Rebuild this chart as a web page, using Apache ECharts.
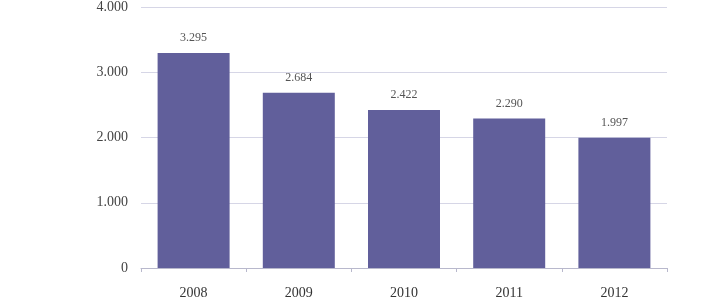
<!DOCTYPE html>
<html><head><meta charset="utf-8">
<script src="https://cdn.jsdelivr.net/npm/echarts@6/dist/echarts.min.js"></script>
<style>html,body{margin:0;padding:0;background:#fff}#c{width:720px;height:301px}</style>
</head><body><div id="c"></div>
<script>
var categories = ['2008', '2009', '2010', '2011', '2012'];
var values = [3295, 2684, 2422, 2290, 1997];
var yTicks = [0, 1000, 2000, 3000, 4000];

function fmt(v) {
  var s = String(Math.round(v));
  return s.replace(/\B(?=(\d{3})+(?!\d))/g, '.');
}

var chart = echarts.init(document.getElementById('c'), null, {renderer: 'canvas'});
chart.setOption({
  animation: false,
  grid: {left: 141, right: 53, top: 4, bottom: 33, containLabel: false},
  xAxis: {
    type: 'category',
    data: categories,
    axisLine: {lineStyle: {color: '#b8b8cc', width: 1}},
    axisTick: {show: true, alignWithLabel: false, length: 4, lineStyle: {color: '#b8b8cc'}},
    axisLabel: {color: '#333', fontFamily: 'Liberation Serif', fontSize: 14, margin: 18}
  },
  yAxis: {
    type: 'value',
    min: yTicks[0],
    max: yTicks[yTicks.length - 1],
    interval: 1000,
    axisLine: {show: false},
    axisTick: {show: false},
    splitLine: {lineStyle: {color: '#d6d6e6', width: 1}},
    axisLabel: {color: '#444', fontFamily: 'Liberation Serif', fontSize: 14, margin: 13,
      formatter: function (v) { return fmt(v); }}
  },
  series: [{
    type: 'bar',
    data: values,
    barWidth: 72,
    itemStyle: {color: '#615f9b'},
    label: {show: true, position: 'top', distance: 9, color: '#555',
      fontFamily: 'Liberation Serif', fontSize: 12,
      formatter: function (p) { return fmt(p.value); }}
  }]
});
</script></body></html>
